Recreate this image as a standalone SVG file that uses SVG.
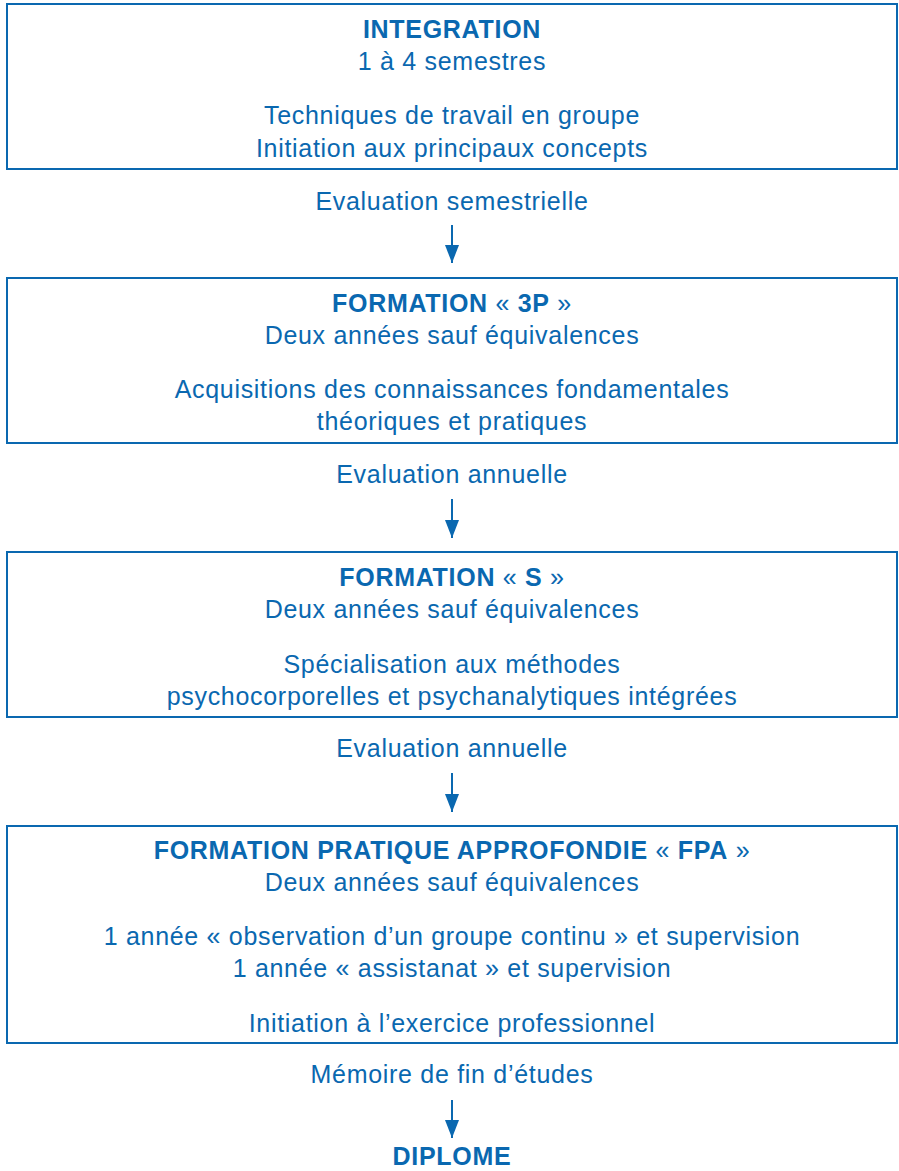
<svg xmlns="http://www.w3.org/2000/svg" width="899" height="1171" viewBox="0 0 899 1171">
<style>
text{font-family:"Liberation Sans",Arial,sans-serif;font-size:25px;letter-spacing:0.7px;fill:#0a68b0;text-anchor:middle}
.b{font-weight:bold}
.box{fill:#fff;stroke:#0a68b0;stroke-width:2}
.con line{stroke:#0a68b0;stroke-width:2}
</style>
<defs>
<marker id="ah" markerWidth="18" markerHeight="14" refX="18" refY="7" orient="auto" markerUnits="userSpaceOnUse" viewBox="0 0 18 14">
<path d="M0,0 L18,7 L0,14 Z" fill="#0a68b0"/>
</marker>
</defs>
<rect width="899" height="1171" fill="#fff"/>
<g id="integration">
<rect class="box" x="7" y="4" width="890" height="165"/>
<text x="452" y="38" class="b">INTEGRATION</text>
<text x="452" y="70">1 à 4 semestres</text>
<text x="452" y="124">Techniques de travail en groupe</text>
<text x="452" y="157">Initiation aux principaux concepts</text>
</g>
<text x="452" y="210">Evaluation semestrielle</text>
<g id="formation3p">
<rect class="box" x="7" y="278" width="890" height="165"/>
<text x="452" y="312"><tspan class="b">FORMATION</tspan> « <tspan class="b">3P</tspan> »</text>
<text x="452" y="344">Deux années sauf équivalences</text>
<text x="452" y="398">Acquisitions des connaissances fondamentales</text>
<text x="452" y="430">théoriques et pratiques</text>
</g>
<text x="452" y="483">Evaluation annuelle</text>
<g id="formationS">
<rect class="box" x="7" y="552" width="890" height="165"/>
<text x="452" y="586"><tspan class="b">FORMATION</tspan> « <tspan class="b">S</tspan> »</text>
<text x="452" y="618">Deux années sauf équivalences</text>
<text x="452" y="673">Spécialisation aux méthodes</text>
<text x="452" y="705">psychocorporelles et psychanalytiques intégrées</text>
</g>
<text x="452" y="757">Evaluation annuelle</text>
<g id="fpa">
<rect class="box" x="7" y="826" width="890" height="217"/>
<text x="452" y="859"><tspan class="b">FORMATION PRATIQUE APPROFONDIE</tspan> « <tspan class="b">FPA</tspan> »</text>
<text x="452" y="891">Deux années sauf équivalences</text>
<text x="452" y="945">1 année « observation d’un groupe continu » et supervision</text>
<text x="452" y="977">1 année « assistanat » et supervision</text>
<text x="452" y="1032">Initiation à l’exercice professionnel</text>
</g>
<text x="452" y="1083">Mémoire de fin d’études</text>
<g id="diplome">
<text x="452" y="1165" class="b">DIPLOME</text>
</g>
<g class="con" id="connectors">
<line x1="452" y1="225" x2="452" y2="263" marker-end="url(#ah)"/>
<line x1="452" y1="499" x2="452" y2="538" marker-end="url(#ah)"/>
<line x1="452" y1="773" x2="452" y2="812" marker-end="url(#ah)"/>
<line x1="452" y1="1100" x2="452" y2="1138" marker-end="url(#ah)"/>
</g>
</svg>
